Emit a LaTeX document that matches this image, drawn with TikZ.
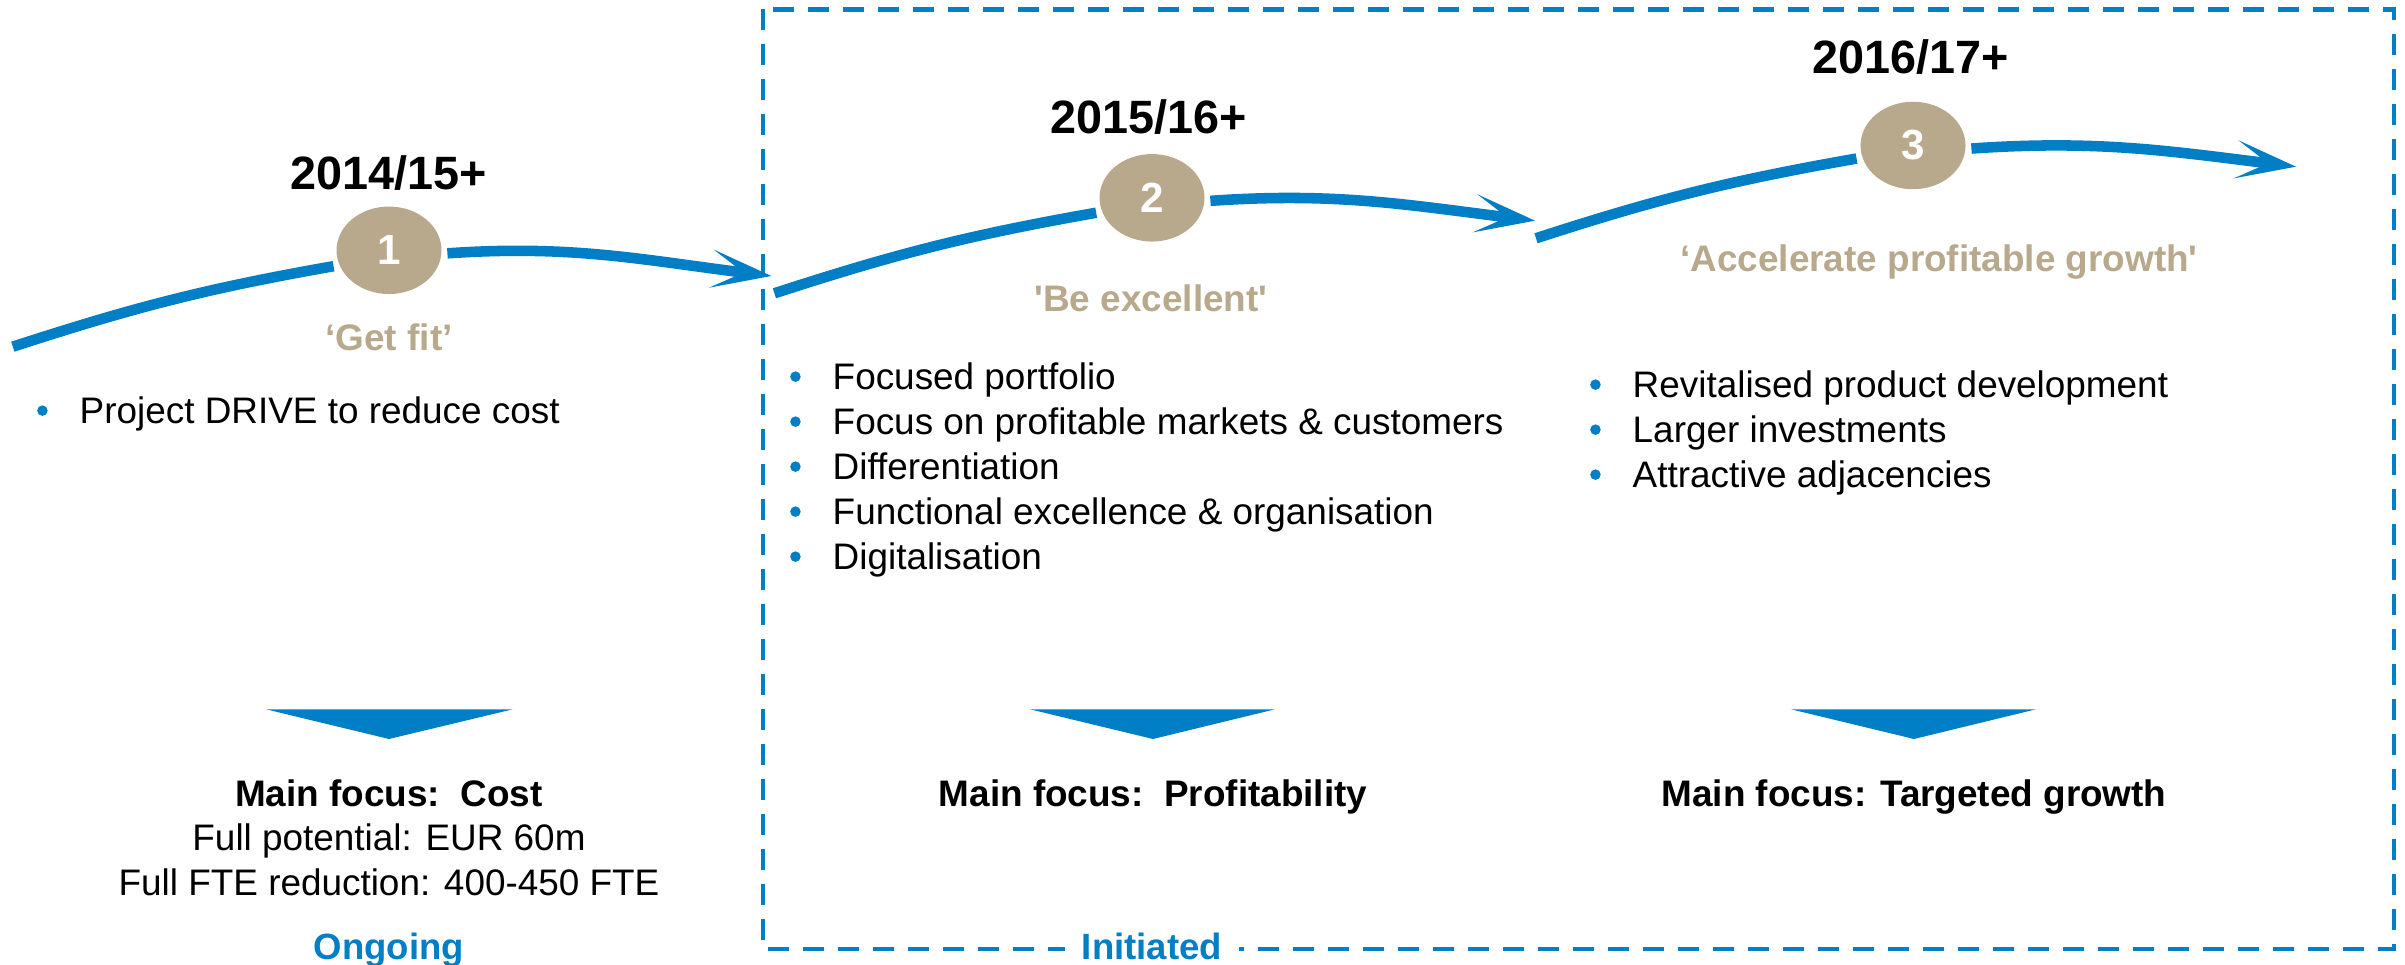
\documentclass[tikz,border=0pt]{standalone}
\usepackage{fontspec}
\setmainfont{Liberation Sans}
\usepackage{tikz}
\usetikzlibrary{arrows.meta,shapes.geometric}

\definecolor{pathblue}{RGB}{0,126,198}
\definecolor{stagetan}{RGB}{184,168,140}

\newcommand{\bul}{\llap{\tikz[baseline=-3.8pt]\fill[pathblue] (0,0) circle (1.5pt);\hspace{0.32cm}}}

\tikzset{
  flow/.style={draw=pathblue,line width=3pt},
  flowtip/.style={flow,-{Stealth[length=0.6cm,width=0.38cm,inset=0.32cm]}},
  stage/.style={ellipse,fill=stagetan,minimum width=1.05cm,minimum height=0.875cm,inner sep=0pt,outer sep=0.06cm,text=white,font=\fontsize{12}{14}\selectfont\bfseries},
  year/.style={anchor=base,inner sep=0pt,font=\fontsize{13.3}{16}\selectfont\bfseries},
  motto/.style={anchor=base,inner sep=0pt,text=stagetan,font=\fontsize{10.5}{12}\selectfont\bfseries},
  item/.style={anchor=base west,inner sep=0pt,font=\fontsize{10.5}{12}\selectfont},
  focus/.style={anchor=base,inner sep=0pt,font=\fontsize{10.5}{12}\selectfont},
  status/.style={anchor=base,fill=white,inner xsep=0.17cm,inner ysep=0.05cm,text=pathblue,font=\fontsize{10.4}{12}\selectfont\bfseries},
  frame/.style={draw=pathblue,line width=1.3pt,dash pattern=on 0.21cm off 0.14cm}
}

\begin{document}
\begin{tikzpicture}
  \useasboundingbox (0,0) rectangle (24.05,-9.65);

  \draw[frame] (7.63,-0.093) rectangle (23.94,-9.49);

  % stages
  \draw (3.89,-2.503) node[stage] (c1) {1};
  \draw (11.52,-1.978) node[stage] (c2) {2};
  \draw (19.13,-1.455) node[stage] (c3) {3};

  \coordinate (s1) at (0.128,-3.467);
  \coordinate (e1) at (7.714,-2.76);
  \coordinate (s2) at (7.744,-2.933);
  \coordinate (e2) at (15.35,-2.207);
  \coordinate (s3) at (15.36,-2.383);
  \coordinate (e3) at (22.96,-1.667);

    \path[flow] (s1) edge[out=18,in=190] (c1.196);
    \path[flow] (c1.-3) edge[flowtip,out=4,in=173] (e1);
    \path[flow] (s2) edge[out=18,in=190] (c2.195);
    \path[flow] (c2.-3) edge[flowtip,out=4,in=173] (e2);
    \path[flow] (s3) edge[out=18,in=190] (c3.193);
    \path[flow] (c3.-3) edge[flowtip,out=4,in=173] (e3);

  \draw (3.885,-1.90) node[year] (y1) {2014/15+};
  \draw (11.49,-1.333) node[year] (y2) {2015/16+};
  \draw (19.11,-0.733) node[year] (y3) {2016/17+};

  \draw (3.89,-3.507) node[motto] (m1) {`Get fit'};
  \draw (11.51,-3.117) node[motto] (m2) {\textquotesingle Be excellent\textquotesingle};
  \draw (19.39,-2.717) node[motto] (m3) {`Accelerate profitable growth\textquotesingle};

  % bullet points
  \draw (0.79,-4.24) node[item] (p1) {\bul Project DRIVE to reduce cost};

  \draw (8.32,-3.90) node[item] (q1) {\bul Focused portfolio};
  \draw (8.32,-4.35) node[item] (q2) {\bul Focus on profitable markets \& customers};
  \draw (8.32,-4.80) node[item] (q3) {\bul Differentiation};
  \draw (8.32,-5.25) node[item] (q4) {\bul Functional excellence \& organisation};
  \draw (8.32,-5.70) node[item] (q5) {\bul Digitalisation};

  \draw (16.32,-3.98) node[item] (r1) {\bul Revitalised product development};
  \draw (16.32,-4.43) node[item] (r2) {\bul Larger investments};
  \draw (16.32,-4.88) node[item] (r3) {\bul Attractive adjacencies};

  % focus arrows
  \fill[pathblue] (2.66,-7.093) -- (5.128,-7.093) -- (3.89,-7.39) -- cycle;
  \fill[pathblue] (10.30,-7.093) -- (12.75,-7.093) -- (11.53,-7.39) -- cycle;
  \fill[pathblue] (17.91,-7.093) -- (20.36,-7.093) -- (19.14,-7.39) -- cycle;

  \draw (3.89,-8.067) node[focus] (f1) {\textbf{Main focus:\ \ Cost}};
  \draw (3.89,-8.507) node[focus] (f1b) {Full potential: EUR 60m};
  \draw (3.89,-8.95) node[focus] (f1c) {Full FTE reduction: 400-450 FTE};
  \draw (11.53,-8.067) node[focus] (f2) {\textbf{Main focus:\ \ Profitability}};
  \draw (19.14,-8.067) node[focus] (f3) {\textbf{Main focus: Targeted growth}};

  \draw (3.89,-9.59) node[status] (ongoing) {Ongoing};
  \draw (11.52,-9.59) node[status] (initiated) {Initiated};

\end{tikzpicture}
\end{document}
